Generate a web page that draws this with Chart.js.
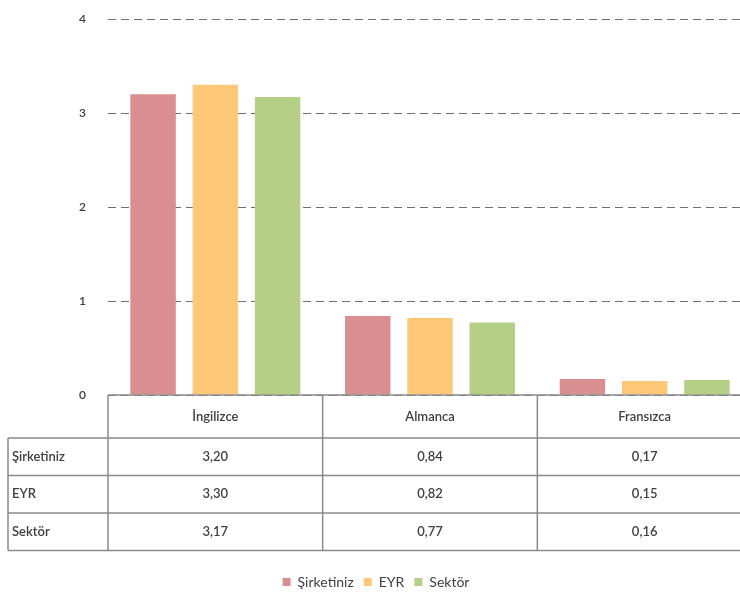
<!DOCTYPE html>
<html>
<head>
<meta charset="utf-8">
<script src="https://cdn.jsdelivr.net/npm/chart.js@4.4.1/dist/chart.umd.min.js"></script>
<style>
html,body{margin:0;padding:0;background:#fff;overflow:hidden;width:740px;height:603px;}
#wrap{position:relative;width:752px;height:603px;}
canvas{display:block;}
</style>
</head>
<body>
<div id="wrap"><canvas id="c" width="752" height="603"></canvas></div>
<script>
const categories = ['İngilizce', 'Almanca', 'Fransızca'];
const seriesNames = ['Şirketiniz', 'EYR', 'Sektör'];
const firmValues = [3.20, 0.84, 0.17];
const eyrValues = [3.30, 0.82, 0.15];
const sectorValues = [3.17, 0.77, 0.16];
const yTicks = [0, 1, 2, 3, 4];
const colors = ['#D98F8F', '#FFC878', '#B5CF87'];

const FONT = 'Lato, "Open Sans", sans-serif';
const TEXT = '#404040';
const LINE = '#8a8a8a';

const tablePlugin = {
  id: 'dataTable',
  afterDraw(chart) {
    const ctx = chart.ctx;
    const x = chart.scales.x;
    const area = chart.chartArea;
    const top = area.bottom;
    const headerH = 43;
    const rowH = 37.5;
    const labelLeft = 8;
    const right = area.right;
    const colEdges = [area.left];
    categories.forEach((c, i) => {
      colEdges.push(area.left + (i + 1) * (area.right - area.left) / categories.length);
    });
    const rows = chart.data.datasets;
    const bottom = top + headerH + rows.length * rowH;
    ctx.save();
    ctx.strokeStyle = LINE;
    ctx.lineWidth = 1.5;
    ctx.beginPath();
    ctx.moveTo(area.left, top); ctx.lineTo(right, top);
    for (let r = 0; r <= rows.length; r++) {
      const y = top + headerH + r * rowH;
      ctx.moveTo(labelLeft, y); ctx.lineTo(right, y);
    }
    colEdges.forEach(cx => { ctx.moveTo(cx, top); ctx.lineTo(cx, bottom); });
    ctx.moveTo(labelLeft, top + headerH); ctx.lineTo(labelLeft, bottom);
    ctx.stroke();

    ctx.fillStyle = TEXT;
    ctx.font = '600 13px ' + FONT;
    ctx.textAlign = 'center';
    ctx.textBaseline = 'middle';
    categories.forEach((c, i) => {
      const cx = x.getPixelForValue(i);
      ctx.fillText(c, cx, top + headerH / 2);
    });
    rows.forEach((ds, r) => {
      const cy = top + headerH + r * rowH + rowH / 2;
      ctx.textAlign = 'left';
      ctx.fillText(ds.label, labelLeft + 4, cy);
      ctx.textAlign = 'center';
      ds.data.forEach((v, i) => {
        ctx.fillText(v.toFixed(2).replace('.', ','), x.getPixelForValue(i), cy);
      });
    });
    ctx.restore();
  }
};

new Chart(document.getElementById('c'), {
  type: 'bar',
  data: {
    labels: categories,
    datasets: [
      { label: seriesNames[0], data: firmValues, backgroundColor: colors[0] },
      { label: seriesNames[1], data: eyrValues, backgroundColor: colors[1] },
      { label: seriesNames[2], data: sectorValues, backgroundColor: colors[2] }
    ]
  },
  options: {
    responsive: false,
    animation: false,
    devicePixelRatio: 1,
    datasets: { bar: { categoryPercentage: 0.87, barPercentage: 0.73 } },
    layout: { padding: { top: 19, left: 0, right: 0, bottom: 4 } },
    plugins: {
      legend: {
        position: 'bottom',
        labels: {
          boxWidth: 8, boxHeight: 8, color: TEXT,
          font: { family: FONT, size: 14 }, padding: 10
        }
      },
      tooltip: { enabled: false }
    },
    scales: {
      x: {
        grid: { display: false, drawTicks: false },
        border: { display: false },
        ticks: { display: false },
        afterFit(s) { s.height = 170; s.paddingTop = 0; s.paddingBottom = 0; }
      },
      y: {
        min: 0, max: 4,
        afterBuildTicks(s) { s.ticks = yTicks.map(v => ({ value: v })); },
        afterFit(s) { s.width = 108; s.paddingTop = 0; s.paddingBottom = 0; },
        ticks: { color: TEXT, font: { family: FONT, size: 12, weight: '600' }, padding: 22 },
        grid: { color: '#6f6f6f', lineWidth: 1, drawTicks: false },
        border: { display: false, dash: [8, 5] }
      }
    }
  },
  plugins: [tablePlugin]
});
</script>
</body>
</html>
